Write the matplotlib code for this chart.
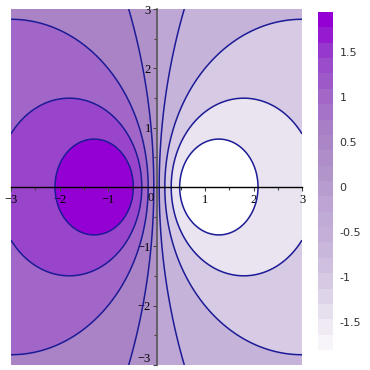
import numpy as np
import matplotlib
matplotlib.use("Agg")
import matplotlib.pyplot as plt
from matplotlib.colors import ListedColormap, LinearSegmentedColormap

K = 4.0
x_vals = np.linspace(-3, 3, 241)
y_vals = np.linspace(-3, 3, 241)

# contour levels drawn as lines
line_levels = [-1.556, -1.111, -0.667, -0.222, 0.222, 0.667, 1.111, 1.556]
# filled bands (low -> high), zero splits the central strip
fill_levels = [-10, -1.556, -1.111, -0.667, -0.222, 0.0,
               0.222, 0.667, 1.111, 1.556, 10]
fill_colors = ["#ffffff", "#eae4f1", "#d7cae4", "#c6b3da", "#bea6d5",
               "#b092c9", "#aa82c6", "#a266c8", "#9845cc", "#9400d3"]

cbar_min = -1.80
cbar_max = 1.96
cbar_ticks = [-1.5, -1.0, -0.5, 0.0, 0.5, 1.0, 1.5]
cbar_labels = ["-1.5", "-1", "-0.5", "0", "0.5", "1", "1.5"]

x_ticks = [-3, -2, -1, 1, 2, 3]
x_labels = ["\u22123", "\u22122", "\u22121", "1", "2", "3"]
y_ticks = [-3, -2, -1, 1, 2, 3]
y_labels = ["\u22123", "\u22122", "\u22121", "1", "2", "3"]

X, Y = np.meshgrid(x_vals, y_vals)
Z = -K * X / (X**2 + Y**2 + 1)

W, H = 370, 370
fig = plt.figure(figsize=(W / 100, H / 100), dpi=100)

ax = fig.add_axes([11 / W, 1 - 365 / H, 291 / W, 356 / H])
ax.contourf(X, Y, Z, levels=fill_levels, colors=fill_colors)
ax.contour(X, Y, Z, levels=line_levels, colors="#1c1c96",
           linewidths=1.1, linestyles="solid")

ax.set_xlim(-3, 3)
ax.set_ylim(-3, 3)

ax.spines["top"].set_visible(False)
ax.spines["right"].set_visible(False)
ax.spines["left"].set_position(("data", 0))
ax.spines["bottom"].set_position(("data", 0))
ax.spines["left"].set_color("#555555")
ax.spines["left"].set_linewidth(1.2)
ax.spines["bottom"].set_color("black")
ax.spines["bottom"].set_linewidth(1.0)

serif = ["Liberation Serif", "DejaVu Serif"]
ax.set_xticks(x_ticks)
ax.set_xticklabels(x_labels, fontfamily=serif, fontsize=9)
ax.set_yticks(y_ticks)
ax.set_yticklabels(y_labels, fontfamily=serif, fontsize=9)
ax.set_xticks(np.arange(-2.5, 3, 1.0), minor=True)
ax.set_yticks(np.arange(-2.5, 3, 1.0), minor=True)
ax.tick_params(axis="x", which="major", direction="out", length=3,
               width=0.8, pad=2, color="#444444")
ax.tick_params(axis="x", which="minor", direction="out", length=2,
               width=0.8, color="#444444")
ax.tick_params(axis="y", which="major", direction="out", length=3,
               width=0.8, pad=1, color="#444444")
ax.tick_params(axis="y", which="minor", direction="out", length=2,
               width=0.8, color="#444444")
# keep the bottom label inside the canvas
ax.get_yticklabels()[0].set_verticalalignment("bottom")
ax.text(-0.13, -0.09, "0", fontfamily=serif, fontsize=9,
        ha="center", va="top")
ax.set_facecolor("none")

# colour legend as a stepped gradient
cax = fig.add_axes([318 / W, 1 - 350 / H, 15 / W, 338 / H])
cmap = LinearSegmentedColormap.from_list("band", fill_colors)
steps = ListedColormap(cmap(np.linspace(0.04, 1, 22)))
cax.imshow(np.linspace(cbar_min, cbar_max, 22)[:, None], cmap=steps,
           aspect="auto", origin="lower",
           extent=[0, 1, cbar_min, cbar_max])
cax.set_ylim(cbar_min, cbar_max)
cax.set_xticks([])
cax.set_yticks([])
for s in cax.spines.values():
    s.set_visible(False)
for t, lab in zip(cbar_ticks, cbar_labels):
    cax.text(1.45, t, lab, transform=cax.get_yaxis_transform(),
             fontsize=8, color="#333333", ha="left", va="center")

fig.savefig("out.png", dpi=100)
